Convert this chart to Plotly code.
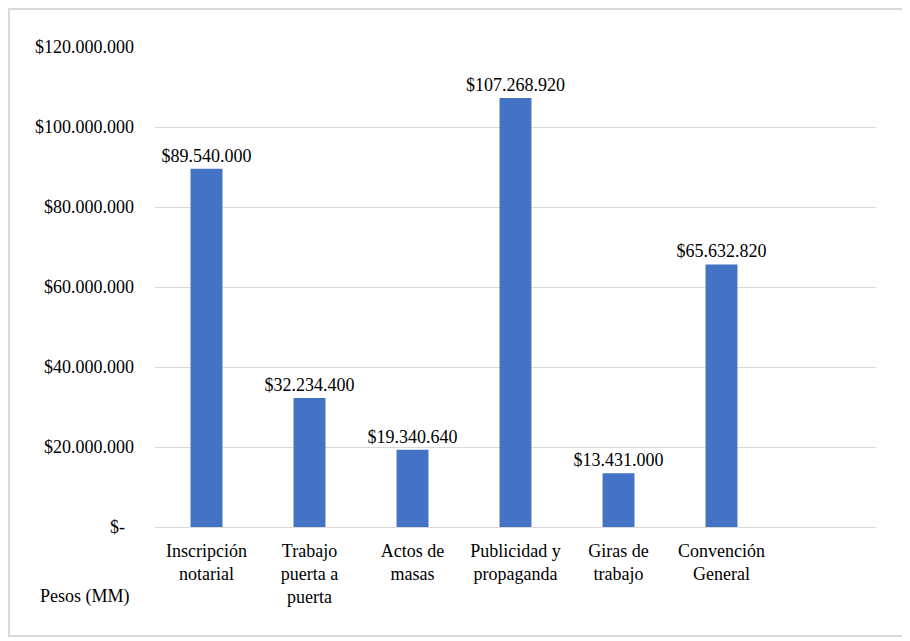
import plotly.graph_objects as go

categories = ["Inscripción<br>notarial", "Trabajo<br>puerta a<br>puerta", "Actos de<br>masas",
              "Publicidad y<br>propaganda", "Giras de<br>trabajo", "Convención<br>General"]
values = [89540000, 32234400, 19340640, 107268920, 13431000, 65632820]
value_labels = ["$89.540.000", "$32.234.400", "$19.340.640", "$107.268.920", "$13.431.000", "$65.632.820"]
tick_vals = [0, 20000000, 40000000, 60000000, 80000000, 100000000, 120000000]
tick_text = ["$-\u00a0\u00a0", "$20.000.000", "$40.000.000", "$60.000.000", "$80.000.000", "$100.000.000", "$120.000.000"]

FONT = "'Liberation Serif', 'Times New Roman', 'DejaVu Serif', serif"
FS = 18

# page has an 8px body margin; figure coordinates = reference coordinates - 8
W, H = 902, 633
L, T, PW, PH = 147, 39, 721, 480

fig = go.Figure(go.Bar(
    x=categories, y=values, text=value_labels, textposition="outside",
    constraintext="none",
    textfont=dict(family=FONT, size=FS, color="black"),
    marker=dict(color="#4472C4", line=dict(width=0)),
    width=0.31, cliponaxis=False,
))

def px(x):
    return (x - L) / PW

def py(y):
    return (T + PH - y) / PH

fig.update_layout(
    width=W, height=H,
    margin=dict(l=L, r=W - L - PW, t=T, b=H - T - PH),
    paper_bgcolor="white", plot_bgcolor="white",
    font=dict(family=FONT, size=FS, color="black"),
    showlegend=False,
    xaxis=dict(range=[-0.5, 6.5], showgrid=False, showline=True, linecolor="#d9d9d9",
               linewidth=1, ticks="", ticklabelstandoff=7,
               tickfont=dict(family=FONT, size=FS, color="black")),
    yaxis=dict(range=[0, 120000000], tickvals=tick_vals, ticktext=tick_text,
               showgrid=True, gridcolor="#d9d9d9", gridwidth=1, zeroline=False,
               showline=False, ticks="", ticklabelstandoff=20,
               tickfont=dict(family=FONT, size=FS, color="black")),
    shapes=[dict(type="rect", xref="paper", yref="paper", x0=px(1), x1=px(897),
                 y0=py(628), y1=py(1), line=dict(color="#d9d9d9", width=2),
                 fillcolor="rgba(0,0,0,0)", layer="below")],
    annotations=[dict(text="Pesos (MM)", xref="paper", yref="paper",
                      x=px(77), y=py(588), xanchor="center", yanchor="middle",
                      showarrow=False,
                      font=dict(family=FONT, size=FS, color="black"))],
)

fig.write_html("out.html")
